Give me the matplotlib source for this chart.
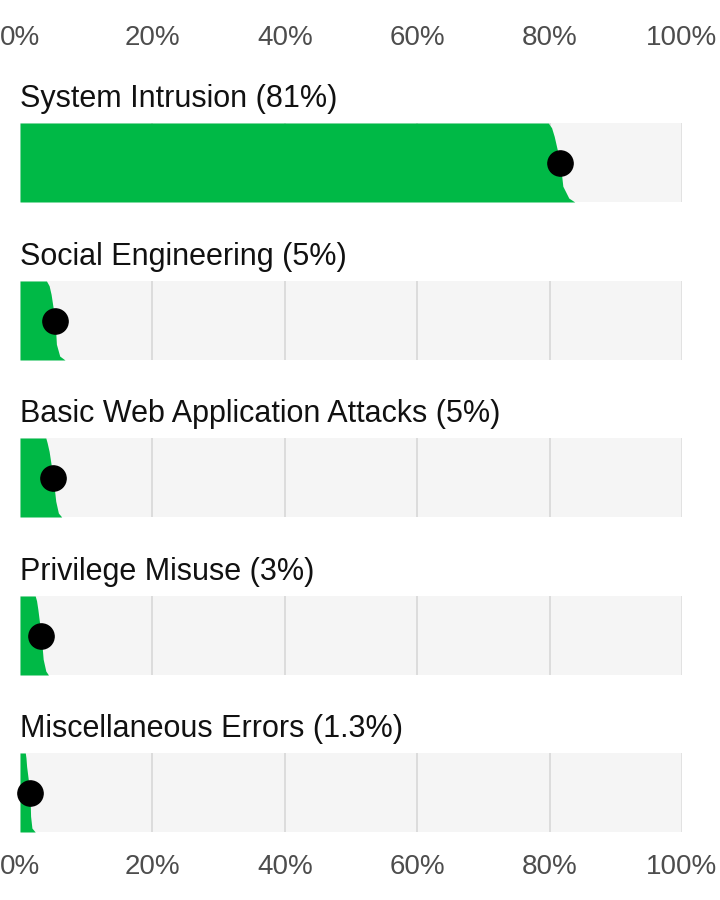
#import library
import matplotlib.pyplot as plt

plt.rcParams["font.family"] = ["Liberation Sans", "DejaVu Sans"]

#define datasets
titles = [
    "System Intrusion (81%)",
    "Social Engineering (5%)",
    "Basic Web Application Attacks (5%)",
    "Privilege Misuse (3%)",
    "Miscellaneous Errors (1.3%)"
]

#point estimate for each pattern (%)
medians = [81.6, 5.3, 5.0, 3.2, 1.5]

#quantile levels (top of slab = 0, bottom = 1)
levels = [0, 0.06, 0.17, 0.5, 0.8, 0.95, 1.0]

#right edge of the green slab at each level (%)
edges = [
    [79.8, 80.3, 80.7, 81.6, 82.0, 82.9, 83.8],
    [4.0, 4.4, 4.7, 5.3, 5.5, 6.0, 6.8],
    [3.9, 4.1, 4.4, 5.0, 5.4, 5.8, 6.3],
    [2.3, 2.5, 2.7, 3.2, 3.5, 3.9, 4.3],
    [0.8, 0.9, 1.0, 1.5, 1.6, 1.8, 2.3]
]

ticks = [0, 20, 40, 60, 80, 100]
tick_labels = ["0%", "20%", "40%", "60%", "80%", "100%"]

green = "#00b946"
panel_bg = "#f5f5f5"

#define fig
fig = plt.figure(figsize=(7.2, 9), dpi=100)

W, H = 720, 900
left, right = 20, 682
panel_h = 79
tops = [123, 281, 438, 596, 753]

axes = []
for i, top in enumerate(tops):
    ax = fig.add_axes([left / W, 1 - (top + panel_h) / H, (right - left) / W, panel_h / H])
    ax.set_facecolor(panel_bg)
    ax.set_xlim(0, 100)
    ax.set_ylim(1, 0)

    #grid lines
    for t in ticks[1:-1]:
        ax.axvline(t, color="#dadada", lw=1.3, zorder=1)
    ax.axvline(100, color="#e0e0e0", lw=2, zorder=1)

    #slab
    ax.fill_betweenx(levels, 0, edges[i], color=green, lw=0, zorder=2)

    #point estimate
    ax.scatter([medians[i]], [0.5], s=330, color="black", zorder=3, clip_on=False)

    for s in ax.spines.values():
        s.set_visible(False)
    ax.set_yticks([])
    ax.tick_params(axis="x", length=0)
    ax.set_xticks(ticks)
    ax.set_xticklabels([])

    #title
    ax.text(0, 1 + 16 / panel_h, titles[i], transform=ax.transAxes,
            ha="left", va="baseline", fontsize=22, color="#111111")
    axes.append(ax)

#top and bottom tick labels
tick_font = dict(fontsize=20, color="#4d4d4d")
axes[0].xaxis.set_ticks_position("top")
axes[0].set_xticklabels(tick_labels, **tick_font)
axes[0].tick_params(axis="x", pad=52)
axes[-1].set_xticklabels(tick_labels, **tick_font)
axes[-1].tick_params(axis="x", pad=16)

#save
fig.savefig("out.png", dpi=100)
